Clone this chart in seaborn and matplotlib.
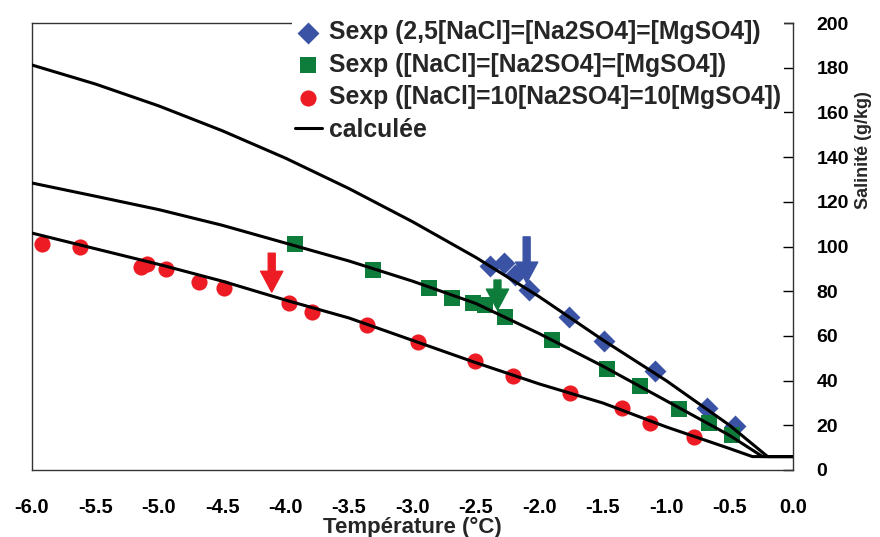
import matplotlib
matplotlib.use("Agg")
import matplotlib.pyplot as plt
import seaborn as sns

# experimental points : temperature (°C) / salinity (g/kg)
blue_t = [-2.39, -2.28, -2.19, -2.08, -1.77, -1.49, -1.09, -0.68, -0.46]
blue_s = [91.3, 92.6, 87.2, 80.5, 68.5, 57.7, 44.3, 27.7, 19.7]
green_t = [-3.93, -3.31, -2.87, -2.69, -2.52, -2.43, -2.27, -1.90, -1.47, -1.21, -0.90, -0.66, -0.48]
green_s = [101.0, 89.5, 81.4, 77.0, 74.7, 73.8, 68.5, 58.2, 45.2, 37.6, 27.3, 21.0, 15.7]
red_t = [-5.92, -5.62, -5.14, -5.09, -4.94, -4.68, -4.49, -3.97, -3.79, -3.36, -2.96,
         -2.51, -2.21, -1.76, -1.35, -1.13, -0.78]
red_s = [101.1, 99.8, 90.8, 92.2, 89.9, 84.1, 81.4, 74.7, 70.7, 64.9, 57.3,
         48.8, 42.1, 34.5, 27.7, 21.0, 14.8]

# calculated curves (read every 0.5 °C)
top_t = [-6.0, -5.5, -5.0, -4.5, -4.0, -3.5, -3.0, -2.5, -2.0, -1.5, -1.0, -0.5, -0.2, 0.0]
top_s = [181.2, 172.7, 162.9, 151.8, 139.5, 125.9, 111.1, 95.1, 77.5, 58.2, 40.0, 20.0, 6.0, 6.0]
mid_t = [-6.0, -5.5, -5.0, -4.5, -4.0, -3.5, -3.0, -2.5, -2.0, -1.5, -1.0, -0.5, -0.24, 0.0]
mid_s = [128.4, 122.5, 116.5, 109.5, 101.5, 93.5, 84.5, 74.5, 61.0, 46.5, 31.0, 15.5, 6.0, 6.0]
low_t = [-6.0, -5.5, -5.0, -4.5, -4.0, -3.5, -3.0, -2.5, -2.0, -1.5, -1.0, -0.5, -0.32, 0.0]
low_s = [106.0, 99.0, 92.0, 84.5, 76.0, 68.0, 58.0, 48.0, 38.5, 30.0, 19.3, 9.6, 6.0, 6.0]

# arrows (temperature, start salinity, tip salinity)
arrow_t = [-4.11, -2.33, -2.10]
arrow_from = [97.0, 85.0, 104.3]
arrow_to = [79.6, 71.6, 83.7]
arrow_col = ["#ED1C24", "#0E7D3C", "#3A53A4"]

labels = ["Sexp (2,5[NaCl]=[Na2SO4]=[MgSO4])",
          "Sexp ([NaCl]=[Na2SO4]=[MgSO4])",
          "Sexp ([NaCl]=10[Na2SO4]=10[MgSO4])",
          "calculée"]

sns.set_style("white")
plt.rcParams["font.family"] = ["Liberation Sans", "DejaVu Sans"]
plt.rcParams["font.weight"] = "bold"

fig = plt.figure(figsize=(8.8, 5.37), dpi=100)
ax = fig.add_axes([32 / 880, 1 - 470 / 537, 761 / 880, 447 / 537])

sns.scatterplot(x=blue_t, y=blue_s, marker="D", s=125, color="#3A53A4", linewidth=0, ax=ax, zorder=3)
sns.scatterplot(x=green_t, y=green_s, marker="s", s=135, color="#0E7D3C", linewidth=0, ax=ax, zorder=3)
sns.scatterplot(x=red_t, y=red_s, marker="o", s=135, color="#ED1C24", linewidth=0, ax=ax, zorder=3)
for tt, ss in [(top_t, top_s), (mid_t, mid_s), (low_t, low_s)]:
    sns.lineplot(x=tt, y=ss, color="black", linewidth=2.2, sort=False, estimator=None, ax=ax, zorder=4)

for x, y0, y1, c in zip(arrow_t, arrow_from, arrow_to, arrow_col):
    ax.annotate("", xy=(x, y1), xytext=(x, y0),
                arrowprops=dict(arrowstyle="simple,head_length=0.75,head_width=0.8,tail_width=0.25",
                                color=c, shrinkA=0, shrinkB=0, mutation_scale=20), zorder=5)

ax.set_xlim(-6, 0)
ax.set_ylim(0, 200)
ax.set_xticks([-6 + 0.5 * i for i in range(13)])
ax.set_xticklabels([f"{-6 + 0.5 * i:.1f}" for i in range(13)])
ax.set_yticks(range(0, 201, 20))
ax.yaxis.tick_right()
ax.yaxis.set_label_position("right")
ax.tick_params(axis="x", direction="in", length=7, width=1, pad=20, labelsize=14.5, colors="black")
ax.tick_params(axis="y", direction="in", length=7, width=1, pad=17, labelsize=14, colors="black")
for lab in ax.get_xticklabels() + ax.get_yticklabels():
    lab.set_fontweight("bold")
for sp in ax.spines.values():
    sp.set_visible(True)
    sp.set_color("#333333")
    sp.set_linewidth(1)

ax.set_xlabel("Température (°C)", fontsize=16, fontweight="bold", labelpad=0)
ax.set_ylabel("Salinité (g/kg)", fontsize=13, fontweight="bold", rotation=90)
ax.yaxis.set_label_coords(1.092, 0.716)
ax.yaxis.label.set_va("center")
ax.yaxis.label.set_ha("center")

h = [ax.collections[0], ax.collections[1], ax.collections[2], ax.lines[0]]
leg = ax.legend(h, labels, loc="upper left", bbox_to_anchor=(0.342, 1.012), fontsize=17.8,
                frameon=True, facecolor="white", edgecolor="none", framealpha=1,
                handlelength=1.1, handletextpad=0.3, labelspacing=0.35, borderpad=0.1,
                borderaxespad=0, markerscale=1.0)
for t in leg.get_texts():
    t.set_fontweight("bold")

fig.savefig("out.png", dpi=100)
